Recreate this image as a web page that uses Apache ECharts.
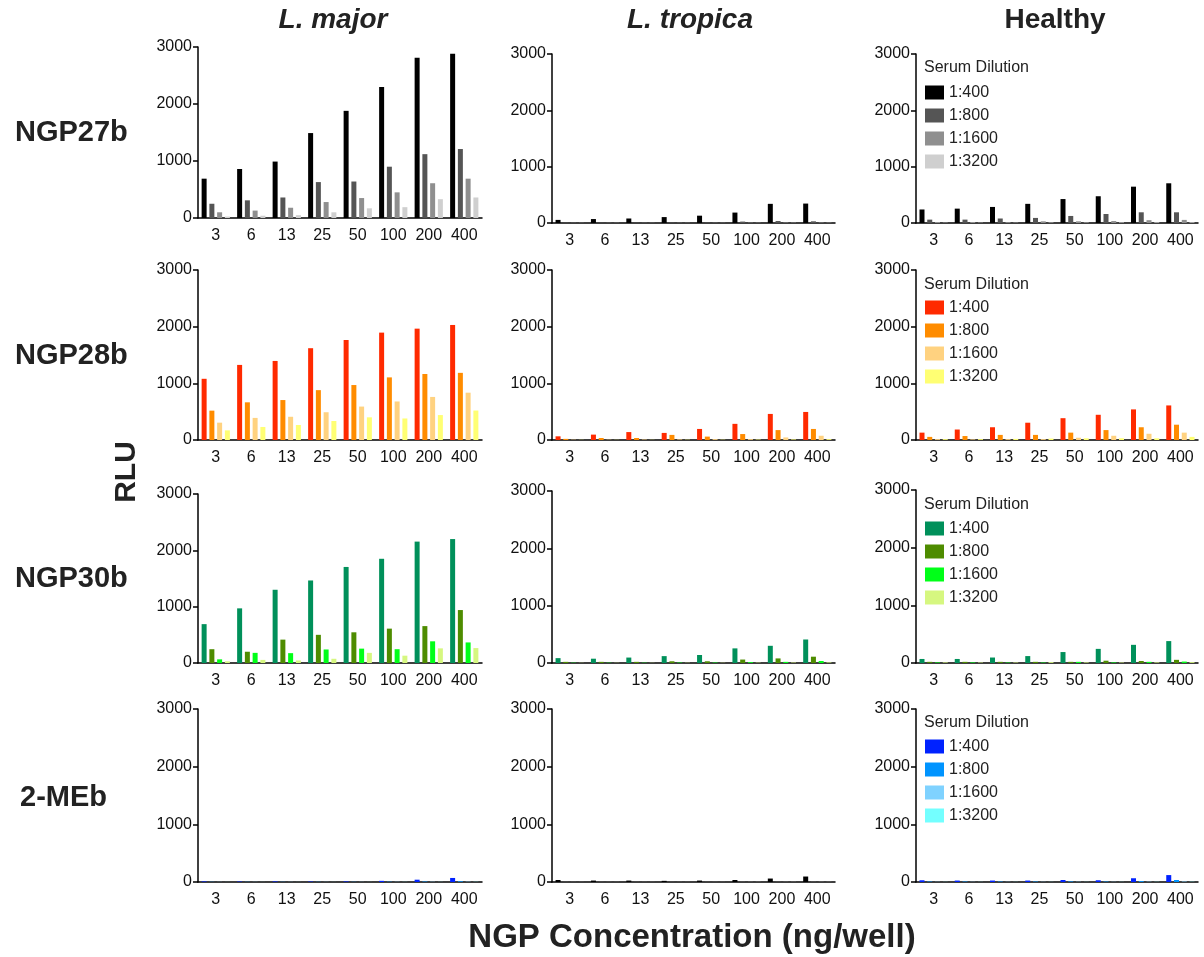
<!DOCTYPE html>
<html><head><meta charset="utf-8">
<script src="https://cdn.jsdelivr.net/npm/echarts@6/dist/echarts.min.js"></script>
<style>html,body{margin:0;padding:0;background:#fff}#c{width:1204px;height:957px}</style>
</head><body><div id="c"></div>
<script>
// ---------- data ----------
const categories = ['3', '6', '13', '25', '50', '100', '200', '400'];
const dilutions = ['1:400', '1:800', '1:1600', '1:3200'];
const rowNames = ['NGP27b', 'NGP28b', 'NGP30b', '2-MEb'];
const colNames = ['L. major', 'L. tropica', 'Healthy'];
const yTicks = [0, 1000, 2000, 3000];

// each panel: [1:400, 1:800, 1:1600, 1:3200] values over categories
const ngp27b_major = [
  [690, 860, 990, 1490, 1880, 2300, 2810, 2880],
  [250, 310, 360, 630, 640, 900, 1120, 1210],
  [100, 130, 180, 280, 350, 450, 610, 690],
  [25, 40, 50, 100, 170, 190, 330, 360]
];
const ngp27b_tropica = [
  [55, 70, 80, 105, 130, 185, 340, 345],
  [5, 5, 5, 8, 8, 25, 35, 30],
  [3, 3, 3, 4, 4, 6, 8, 8],
  [2, 2, 2, 2, 2, 3, 4, 4]
];
const ngp27b_healthy = [
  [240, 255, 285, 340, 425, 475, 645, 705],
  [60, 60, 80, 90, 125, 160, 190, 190],
  [18, 18, 15, 30, 30, 35, 50, 55],
  [5, 5, 5, 8, 8, 10, 12, 12]
];
const ngp28b_major = [
  [1080, 1325, 1395, 1620, 1765, 1895, 1965, 2030],
  [518, 665, 705, 880, 970, 1105, 1165, 1185],
  [306, 390, 410, 490, 590, 680, 760, 835],
  [170, 230, 265, 335, 400, 380, 440, 520]
];
const ngp28b_tropica = [
  [65, 95, 140, 125, 195, 285, 460, 495],
  [20, 35, 35, 90, 60, 105, 175, 195],
  [5, 5, 8, 10, 15, 15, 45, 75],
  [3, 3, 3, 5, 5, 8, 10, 15]
];
const ngp28b_healthy = [
  [130, 185, 225, 305, 385, 445, 540, 610],
  [55, 70, 90, 90, 130, 175, 225, 270],
  [15, 10, 15, 15, 40, 75, 110, 130],
  [15, 15, 20, 25, 30, 30, 30, 55]
];
const ngp30b_major = [
  [690, 970, 1300, 1465, 1705, 1850, 2155, 2200],
  [245, 200, 415, 500, 545, 610, 655, 940],
  [65, 180, 175, 240, 255, 245, 385, 365],
  [30, 55, 45, 75, 180, 130, 260, 265]
];
const ngp30b_tropica = [
  [85, 75, 95, 120, 140, 255, 300, 410],
  [20, 20, 20, 30, 30, 60, 80, 110],
  [5, 5, 5, 8, 8, 15, 20, 35],
  [3, 3, 3, 4, 4, 6, 8, 10]
];
const ngp30b_healthy = [
  [70, 70, 95, 120, 190, 245, 315, 380],
  [20, 20, 20, 20, 20, 40, 35, 55],
  [10, 10, 8, 8, 20, 10, 20, 25],
  [10, 8, 8, 15, 10, 8, 10, 15]
];
const meb_major = [
  [10, 8, 10, 8, 10, 20, 40, 70],
  [3, 3, 3, 3, 3, 5, 8, 12],
  [2, 2, 2, 2, 2, 3, 4, 5],
  [1, 1, 1, 1, 1, 2, 2, 3]
];
const meb_tropica = [
  [35, 25, 25, 20, 25, 35, 60, 95],
  [5, 5, 5, 5, 5, 8, 8, 10],
  [2, 2, 2, 2, 2, 3, 3, 4],
  [1, 1, 1, 1, 1, 2, 2, 2]
];
const meb_healthy = [
  [30, 25, 25, 25, 35, 30, 65, 120],
  [8, 8, 8, 8, 10, 8, 15, 35],
  [3, 3, 3, 3, 4, 3, 5, 8],
  [2, 2, 2, 2, 2, 2, 3, 4]
];

const panels = [
  [ngp27b_major, ngp27b_tropica, ngp27b_healthy],
  [ngp28b_major, ngp28b_tropica, ngp28b_healthy],
  [ngp30b_major, ngp30b_tropica, ngp30b_healthy],
  [meb_major, meb_tropica, meb_healthy]
];

// ---------- styles ----------
const grayColors = ['#000000', '#555555', '#8f8f8f', '#cfcfcf'];
const rowColors = [
  grayColors,
  ['#ff2a00', '#ff8c00', '#ffd280', '#ffff73'],
  ['#00905a', '#4e8c00', '#00ff18', '#d6f780'],
  ['#0022ff', '#0094ff', '#7fd2ff', '#73ffff']
];
const panelColors = (r, c) => (r === 3 && c === 1) ? grayColors : rowColors[r];

const gridPos = [
  [[198, 47, 284, 171], [552, 54, 283, 169], [916, 54, 282, 169]],
  [[198, 270, 284, 170], [552, 270, 283, 170], [916, 270, 282, 170]],
  [[198, 494, 284, 169], [552, 491, 283, 172], [916, 490, 282, 173]],
  [[198, 709, 284, 173], [552, 709, 283, 173], [916, 709, 282, 173]]
];
const legendTop = [84, 299, 520, 738];
const legendTitleY = [68, 285, 505, 723];
const colCenters = [333, 690, 1055];
const rowLabelY = [133, 356, 579, 798];

const FONT = "'Liberation Sans', Arial, Helvetica, sans-serif";

const grids = [], xAxes = [], yAxes = [], series = [], legends = [], graphics = [];
let gi = 0;
for (let r = 0; r < 4; r++) {
  for (let c = 0; c < 3; c++) {
    const [l, t, w, h] = gridPos[r][c];
    grids.push({ left: l, top: t, width: w, height: h, containLabel: false });
    xAxes.push({
      type: 'category', gridIndex: gi, data: categories, boundaryGap: true,
      axisLine: { lineStyle: { color: '#000', width: 1.5 } },
      axisTick: { alignWithLabel: true, length: 5, lineStyle: { color: '#000', width: 1.5 } },
      axisLabel: { interval: 0, fontSize: 16, color: '#111', fontFamily: FONT, margin: 10 },
      splitLine: { show: false }
    });
    yAxes.push({
      type: 'value', gridIndex: gi, min: yTicks[0], max: yTicks[yTicks.length - 1], interval: 1000,
      axisLine: { show: true, lineStyle: { color: '#000', width: 1.5 } },
      axisTick: { show: true, length: 5, lineStyle: { color: '#000', width: 1.5 } },
      axisLabel: { fontSize: 16, color: '#111', fontFamily: FONT, margin: 6, formatter: v => String(v) },
      splitLine: { show: false }
    });
    const cols = panelColors(r, c);
    panels[r][c].forEach((vals, k) => {
      series.push({
        type: 'bar', name: r + '-' + c + '|' + dilutions[k],
        xAxisIndex: gi, yAxisIndex: gi, data: vals,
        barWidth: 5, barGap: '55%',
        itemStyle: { color: cols[k] },
        emphasis: { disabled: true }, animation: false
      });
    });
    gi++;
  }
  legends.push({
    data: dilutions.map(d => r + '-2|' + d),
    orient: 'vertical', left: 925, top: legendTop[r], padding: 0,
    icon: 'rect', itemWidth: 19, itemHeight: 14, itemGap: 6,
    selectedMode: false,
    formatter: n => n.split('|')[1],
    textStyle: { fontSize: 16, color: '#222', fontFamily: FONT, lineHeight: 17 }
  });
  graphics.push({
    type: 'text', x: 924, y: legendTitleY[r],
    style: { text: 'Serum Dilution', font: '16px ' + FONT, fill: '#222', textAlign: 'left', textVerticalAlign: 'middle' }
  });
  graphics.push({
    type: 'text', x: r === 3 ? 20 : 15, y: rowLabelY[r],
    style: { text: rowNames[r], font: 'bold 29px ' + FONT, fill: '#222', textAlign: 'left', textVerticalAlign: 'middle' }
  });
}
colNames.forEach((n, c) => {
  graphics.push({
    type: 'text', x: colCenters[c], y: 20,
    style: { text: n, font: (c < 2 ? 'italic ' : '') + 'bold 28px ' + FONT, fill: '#222', textAlign: 'center', textVerticalAlign: 'middle' }
  });
});
graphics.push({
  type: 'text', x: 127, y: 472, rotation: Math.PI / 2,
  style: { text: 'RLU', font: 'bold 30px ' + FONT, fill: '#222', textAlign: 'center', textVerticalAlign: 'middle' }
});
graphics.push({
  type: 'text', x: 692, y: 938,
  style: { text: 'NGP Concentration (ng/well)', font: 'bold 33px ' + FONT, fill: '#222', textAlign: 'center', textVerticalAlign: 'middle' }
});

const chart = echarts.init(document.getElementById('c'));
chart.setOption({
  animation: false,
  backgroundColor: '#fff',
  grid: grids, xAxis: xAxes, yAxis: yAxes, series: series, legend: legends,
  graphic: graphics
});
</script></body></html>
